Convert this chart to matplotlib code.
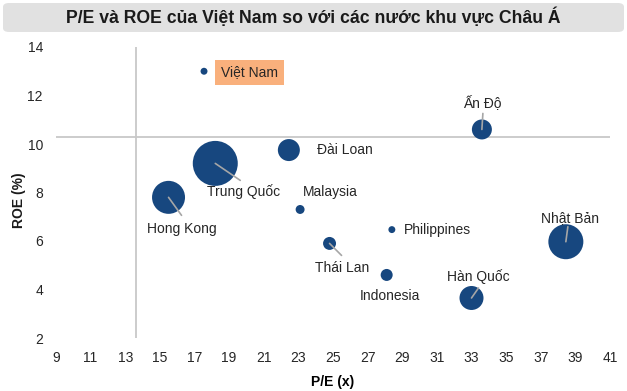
import numpy as np
import matplotlib.pyplot as plt
from matplotlib.patches import FancyBboxPatch

plt.rcParams['font.family'] = ['Liberation Sans', 'DejaVu Sans']

countries = ['Việt Nam', 'Ấn Độ', 'Đài Loan', 'Trung Quốc', 'Hong Kong', 'Malaysia',
             'Philippines', 'Thái Lan', 'Nhật Bản', 'Indonesia', 'Hàn Quốc']
pe = [17.55, 33.6, 22.45, 18.2, 15.5, 23.1, 28.4, 24.8, 38.45, 28.1, 33.0]
roe = [13.0, 10.6, 9.75, 9.2, 7.8, 7.3, 6.47, 5.9, 5.97, 4.6, 3.65]
bubble = [12, 100, 121, 506, 272, 20, 12, 42, 306, 36, 144]

pe_avg = 13.6
roe_avg = 10.3

# label offsets in pixels (dx, dy downward), alignment, leader line end offset
label_pos = {
    'Việt Nam': (17, 1, 'left', None),
    'Ấn Độ': (0, -27, 'center', (1, -16)),
    'Đài Loan': (28, 0, 'left', None),
    'Trung Quốc': (28, 28, 'center', (25, 17)),
    'Hong Kong': (13, 32, 'center', (13, 18)),
    'Malaysia': (3, -17, 'left', None),
    'Philippines': (12, 0, 'left', None),
    'Thái Lan': (13, 25, 'center', (12, 12)),
    'Nhật Bản': (4, -24, 'center', (2, -15)),
    'Indonesia': (3, 21, 'center', None),
    'Hàn Quốc': (7, -21, 'center', (7, -10)),
}

W, H = 627, 391
fig = plt.figure(figsize=(W / 100, H / 100), dpi=100)
ax = fig.add_axes([56 / W, 1 - 338 / H, (610 - 56) / W, (338 - 47) / H])

# title band
fig.patches.append(FancyBboxPatch((3 / W, 1 - 32 / H), 621 / W, 29 / H,
                                  boxstyle='round,pad=0,rounding_size=0.01',
                                  transform=fig.transFigure, facecolor='#e1e1e1',
                                  edgecolor='none'))
fig.text(0.5, 1 - 17 / H, 'P/E và ROE của Việt Nam so với các nước khu vực Châu Á',
         ha='center', va='center', fontsize=12.7, fontweight='bold', color='#1a1a1a')

ax.axvline(pe_avg, color='#c8c8c8', lw=1.3, zorder=1)
ax.axhline(roe_avg, color='#c8c8c8', lw=1.3, zorder=1)

s = np.array(bubble) * (2 * 0.72) ** 2
ax.scatter(pe, roe, s=s, color='#17477f', edgecolors='none', zorder=3)

px = 0.72
for name, x, y in zip(countries, pe, roe):
    dx, dy, ha, lead = label_pos[name]
    if lead is not None:
        ax.annotate('', xy=(x, y), xytext=(lead[0] * px, -lead[1] * px),
                    textcoords='offset points',
                    arrowprops=dict(arrowstyle='-', color='#a6a6a6', lw=1.2,
                                    shrinkA=0, shrinkB=0), zorder=4)
    kw = {}
    if name == 'Việt Nam':
        kw['bbox'] = dict(boxstyle='square,pad=0.4', facecolor='#f9b07c', edgecolor='none')
    ax.annotate(name, xy=(x, y), xytext=(dx * px, -dy * px), textcoords='offset points',
                ha=ha, va='center', fontsize=10, color='#262626', zorder=5, **kw)

ax.set_xlim(9, 41)
ax.set_ylim(2, 14)
ax.set_xticks(np.arange(9, 42, 2))
ax.set_yticks(np.arange(2, 15, 2))
for sp in ax.spines.values():
    sp.set_visible(False)
ax.tick_params(length=0, labelsize=10, colors='#262626')
ax.tick_params(axis='x', pad=9.4)
ax.tick_params(axis='y', pad=9.4)
ax.set_xlabel('P/E (x)', fontsize=10, fontweight='bold', labelpad=7.5)
fig.text(19 / W, 1 - 200 / H, 'ROE (%)', rotation=90, ha='center', va='center',
         fontsize=10, fontweight='bold', color='#1a1a1a')

fig.savefig('out.png', dpi=100)
